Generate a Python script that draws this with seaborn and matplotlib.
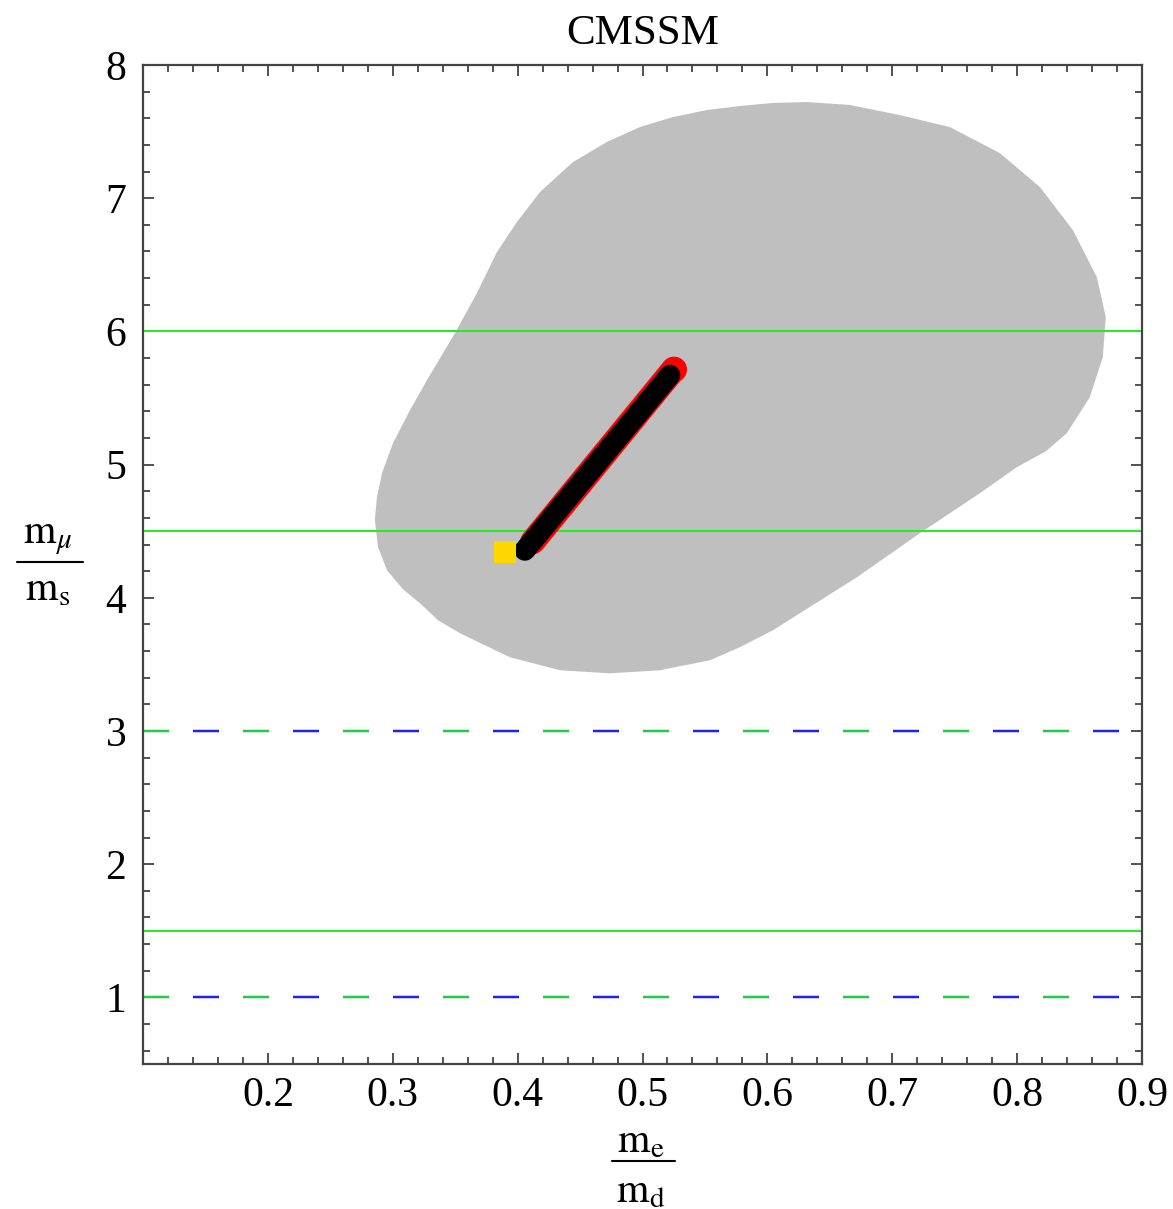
import numpy as np
import pandas as pd
import matplotlib
matplotlib.use("Agg")
import matplotlib.pyplot as plt
from matplotlib.lines import Line2D
import seaborn as sns

# ---------------- data ----------------
title = "CMSSM"
x_ticks = [0.2, 0.3, 0.4, 0.5, 0.6, 0.7, 0.8, 0.9]
y_ticks = [1, 2, 3, 4, 5, 6, 7, 8]

# gray allowed region outline (clockwise from top)
blob_x = [0.6316, 0.6660, 0.7061, 0.7461, 0.7861, 0.8182, 0.8446, 0.8638, 0.8710, 0.8686,
          0.8582, 0.8398, 0.8230, 0.7998, 0.7701, 0.7221, 0.6717, 0.6260, 0.6044, 0.5780,
          0.5540, 0.5139, 0.4739, 0.4339, 0.3938, 0.3538, 0.3362, 0.3218, 0.3082, 0.2954,
          0.2882, 0.2857, 0.2873, 0.2914, 0.3002, 0.3138, 0.3274, 0.3498, 0.3674, 0.3834,
          0.3994, 0.4179, 0.4443, 0.4715, 0.4979, 0.5243, 0.5516, 0.5780, 0.6044]
blob_y = [7.722, 7.700, 7.624, 7.534, 7.339, 7.084, 6.761, 6.408, 6.107, 5.807,
          5.506, 5.236, 5.100, 4.981, 4.785, 4.485, 4.154, 3.884, 3.756, 3.629,
          3.531, 3.456, 3.433, 3.456, 3.554, 3.734, 3.832, 3.959, 4.064, 4.207,
          4.380, 4.583, 4.755, 4.936, 5.161, 5.409, 5.634, 5.987, 6.288, 6.595,
          6.821, 7.046, 7.271, 7.422, 7.534, 7.609, 7.662, 7.692, 7.715]

# model band (black) and its red edge
band_x = [0.4058, 0.5219]
band_y = [4.357, 5.672]
red_x = [0.412, 0.5251]
red_y = [4.42, 5.717]
red_end_x = [0.5251]
red_end_y = [5.717]
square_x = [0.3898]
square_y = [4.342]

# horizontal reference lines
solid_levels = [6.0, 4.5, 1.5]
dashed_levels = [3.0, 1.0]

# ---------------- style ----------------
sns.set_style("ticks")
plt.rcParams["font.family"] = ["Liberation Serif", "DejaVu Serif"]
plt.rcParams["mathtext.fontset"] = "stix"
plt.rcParams["lines.scale_dashes"] = False
plt.rcParams["text.color"] = "black"
plt.rcParams["xtick.labelcolor"] = "black"
plt.rcParams["ytick.labelcolor"] = "black"

DPI = 100
fig = plt.figure(figsize=(11.73, 12.09), dpi=DPI)
ax = fig.add_axes([143 / 1173, 1 - 1064 / 1209, (1142 - 143) / 1173, (1064 - 65) / 1209])

px = 72.0 / DPI  # points per pixel

ax.fill(blob_x, blob_y, color="#bfbfbf", lw=0, zorder=1, antialiased=True)

for lv in solid_levels:
    ax.plot([0.1, 0.9], [lv, lv], color="#22ee22", lw=2 * px, zorder=2)

for lv in dashed_levels:
    ax.plot([0.1, 0.9], [lv, lv], color="#22cc44", lw=2.5 * px, zorder=2,
            linestyle=(0, (26 * px, 74 * px)), dash_capstyle="butt")
    ax.plot([0.1, 0.9], [lv, lv], color="#2222ee", lw=2.5 * px, zorder=2,
            linestyle=(-50 * px, (26 * px, 74 * px)), dash_capstyle="butt")

df_red = pd.DataFrame({"x": red_x, "y": red_y})
df_band = pd.DataFrame({"x": band_x, "y": band_y})
sns.lineplot(data=df_red, x="x", y="y", ax=ax, color="red", lw=25 * px,
             solid_capstyle="round", sort=False, zorder=3)
sns.scatterplot(x=red_end_x, y=red_end_y, ax=ax, color="red", s=(25 * px) ** 2,
                linewidth=0, zorder=3)
sns.lineplot(data=df_band, x="x", y="y", ax=ax, color="black", lw=21 * px,
             solid_capstyle="round", sort=False, zorder=4)
sns.scatterplot(x=square_x, y=square_y, ax=ax, color="#ffd700", marker="s",
                s=(22 * px) ** 2, linewidth=0, zorder=5)

ax.set_xlim(0.1, 0.9)
ax.set_ylim(0.5, 8)
ax.set_xticks(x_ticks)
ax.set_yticks(y_ticks)
ax.set_xticklabels([f"{v:.1f}" for v in x_ticks])
ax.set_yticklabels([str(v) for v in y_ticks])
ax.set_xticks(np.arange(0.12, 0.9, 0.02), minor=True)
ax.set_yticks(np.arange(0.6, 8.0, 0.2), minor=True)
ax.tick_params(which="both", direction="in", top=True, right=True,
               color="#333333", width=1.2)
ax.tick_params(which="major", length=8, labelsize=30)
ax.tick_params(which="minor", length=5)
ax.tick_params(axis="x", which="major", pad=9)
ax.tick_params(axis="y", which="major", pad=12)
for s in ax.spines.values():
    s.set_visible(True)
    s.set_color("#444444")
    s.set_linewidth(1.6)
ax.set_xlabel("")
ax.set_ylabel("")
ax.set_title(title, fontsize=31, pad=15, color="black")

# fraction labels
W, H = 1173.0, 1209.0
def frac_label(cx, num, den, num_base, bar_y, bar_x0, bar_x1, den_base):
    fig.text(cx / W, 1 - num_base / H, num, ha="center", va="baseline", fontsize=30)
    fig.text(cx / W, 1 - den_base / H, den, ha="center", va="baseline", fontsize=30)
    fig.add_artist(Line2D([bar_x0 / W, bar_x1 / W], [1 - bar_y / H, 1 - bar_y / H],
                          transform=fig.transFigure, color="black", lw=1.5))

frac_label(48, r"$\mathrm{m}_{\mu}$", r"$\mathrm{m}_{\mathrm{s}}$", 543, 562, 17, 83, 600)
frac_label(641, r"$\mathrm{m}_{\mathrm{e}}$", r"$\mathrm{m}_{\mathrm{d}}$", 1152, 1161, 612, 675, 1202)

fig.savefig("out.png", dpi=DPI)
